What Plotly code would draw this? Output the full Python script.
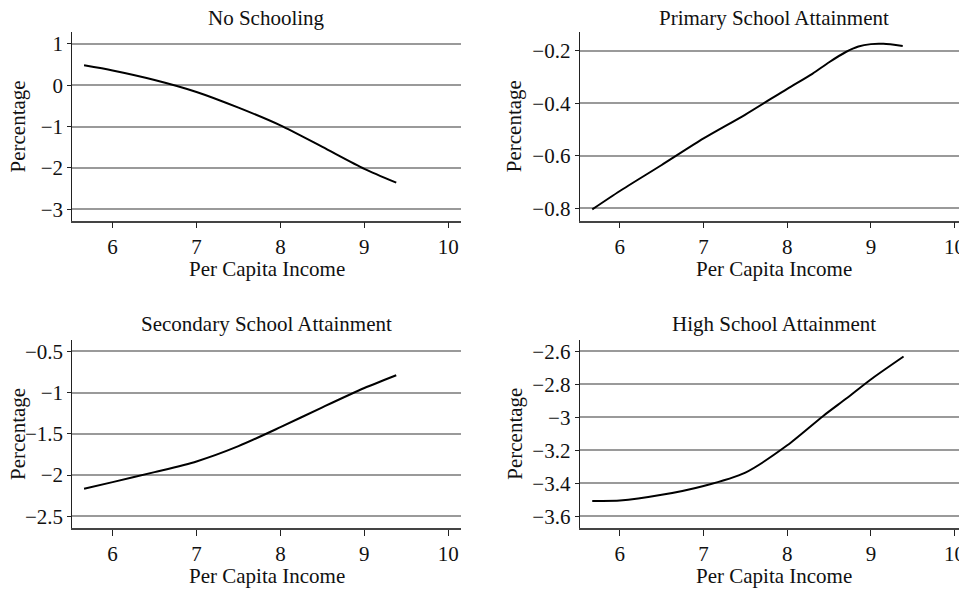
import plotly.graph_objects as go

titles = ["No Schooling", "Primary School Attainment",
          "Secondary School Attainment", "High School Attainment"]
x_label = "Per Capita Income"
y_label = "Percentage"

x_none = [5.66, 6.0, 6.5, 7.0, 7.5, 8.0, 8.5, 9.0, 9.38]
y_none = [0.484, 0.36, 0.13, -0.16, -0.54, -0.97, -1.49, -2.02, -2.355]

x_primary = [5.67, 6.0, 6.5, 7.0, 7.5, 8.0, 8.3, 8.5, 8.7, 8.85, 9.0, 9.15, 9.38]
y_primary = [-0.804, -0.734, -0.635, -0.534, -0.443, -0.345, -0.288, -0.244, -0.205,
             -0.184, -0.175, -0.174, -0.182]

x_secondary = [5.66, 6.0, 6.5, 7.0, 7.5, 8.0, 8.5, 9.0, 9.38]
y_secondary = [-2.166, -2.086, -1.965, -1.835, -1.65, -1.42, -1.179, -0.945, -0.79]

x_high = [5.67, 6.0, 6.5, 7.0, 7.5, 8.0, 8.43, 8.71, 8.99, 9.39]
y_high = [-3.507, -3.505, -3.47, -3.416, -3.335, -3.17, -2.992, -2.885, -2.774, -2.632]

x_ticks = [6, 7, 8, 9, 10]
y_ticks = [
    [1, 0, -1, -2, -3],
    [-0.2, -0.4, -0.6, -0.8],
    [-0.5, -1, -1.5, -2, -2.5],
    [-2.6, -2.8, -3, -3.2, -3.4, -3.6],
]
y_ticktext = [
    ["1", "0", "\u22121", "\u22122", "\u22123"],
    ["\u22120.2", "\u22120.4", "\u22120.6", "\u22120.8"],
    ["\u22120.5", "\u22121", "\u22121.5", "\u22122", "\u22122.5"],
    ["\u22122.6", "\u22122.8", "\u22123", "\u22123.2", "\u22123.4", "\u22123.6"],
]
y_ranges = [[-3.276, 1.283], [-0.847, -0.130], [-2.642, -0.363], [-3.671, -2.532]]
x_range = [5.52, 10.148]

series = [(x_none, y_none), (x_primary, y_primary),
          (x_secondary, y_secondary), (x_high, y_high)]

OFF = 8  # default page body margin
W, H = 967 - OFF, 590 - OFF


def px(v):
    return (v - OFF) / W


def py(v):
    return 1 - (v - OFF) / H


x_domains = [[px(72.3), px(460.7)], [px(579.7), 1.0]]
y_domains = [[py(220.7), py(32.3)], [py(528), py(340)]]
x_centers = [(72.3 + 460.7) / 2, (579.7 + 968) / 2]
ylab_x = [17, 513.7]
title_y = [18.3, 324.3]
xlab_y = [269, 576]

FONT = "Liberation Serif"
FS = 21
TXT = "#111"
fig = go.Figure()
layout = dict(
    width=W, height=H, margin=dict(l=0, r=0, t=0, b=0),
    paper_bgcolor="white", plot_bgcolor="white", showlegend=False,
    font=dict(family=FONT, size=FS, color=TXT),
)
annotations = []
for i, (xs, ys) in enumerate(series):
    r, c = divmod(i, 2)
    n = "" if i == 0 else str(i + 1)
    fig.add_trace(go.Scatter(x=xs, y=ys, mode="lines",
                             line=dict(color="black", width=2, shape="spline", smoothing=0.7),
                             xaxis="x" + n, yaxis="y" + n, hoverinfo="skip"))
    layout["xaxis" + n] = dict(
        domain=x_domains[c], range=x_range, anchor="y" + n,
        tickvals=x_ticks, ticktext=[str(v) for v in x_ticks],
        showgrid=False, zeroline=False, showline=True, linecolor="#444", linewidth=1.5,
        ticks="outside", ticklen=6, tickcolor="#222", tickwidth=1,
        tickfont=dict(family=FONT, size=FS, color=TXT),
    )
    layout["yaxis" + n] = dict(
        domain=y_domains[r], range=y_ranges[i], anchor="x" + n,
        tickvals=y_ticks[i], ticktext=y_ticktext[i],
        showgrid=True, gridcolor="#9a9a9a", gridwidth=1.5,
        zeroline=False, showline=True, linecolor="#222", linewidth=1.2,
        ticks="outside", ticklen=4, tickcolor="#222", tickwidth=1,
        tickfont=dict(family=FONT, size=FS, color=TXT),
    )
    yd = y_domains[r]
    annotations.append(dict(text=titles[i], x=px(x_centers[c]), y=py(title_y[r]),
                            xref="paper", yref="paper",
                            xanchor="center", yanchor="middle", showarrow=False,
                            font=dict(family=FONT, size=FS, color=TXT)))
    annotations.append(dict(text=x_label, x=px(x_centers[c]), y=py(xlab_y[r]),
                            xref="paper", yref="paper",
                            xanchor="center", yanchor="middle", showarrow=False,
                            font=dict(family=FONT, size=FS, color=TXT)))
    annotations.append(dict(text=y_label, x=px(ylab_x[c] + 1), y=(yd[0] + yd[1]) / 2,
                            xref="paper", yref="paper", textangle=-90,
                            xanchor="center", yanchor="middle", showarrow=False,
                            font=dict(family=FONT, size=FS, color=TXT)))
layout["annotations"] = annotations
fig.update_layout(**layout)
fig.write_html("out.html")
